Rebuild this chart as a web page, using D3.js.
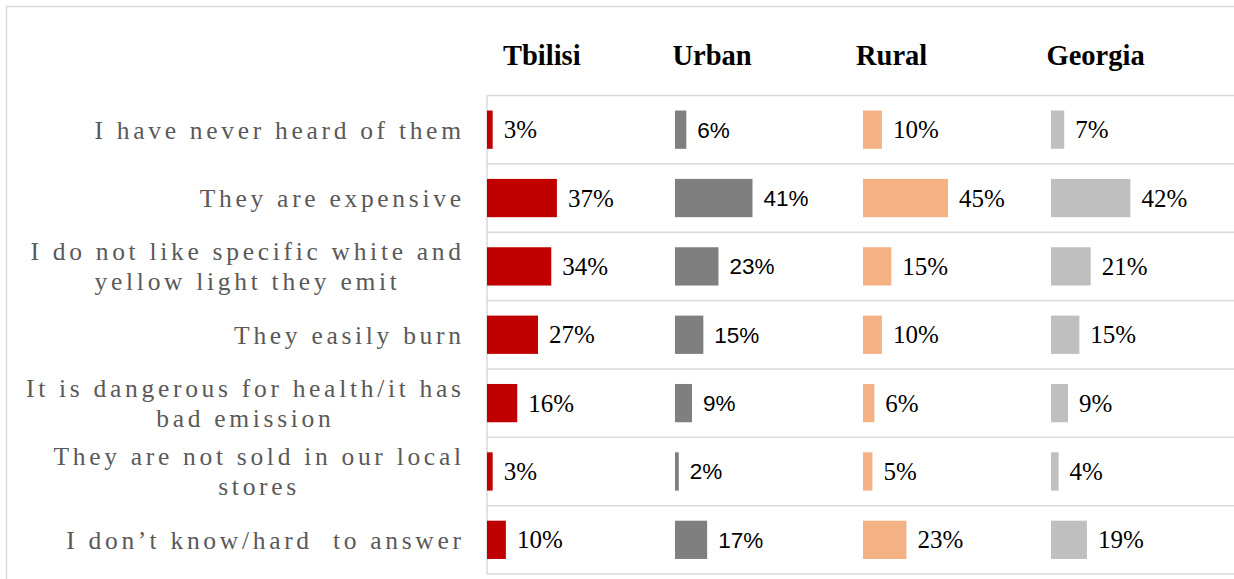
<!DOCTYPE html>
<html>
<head>
<meta charset="utf-8">
<script src="https://cdn.jsdelivr.net/npm/d3@7"></script>
<style>
  html, body { margin: 0; padding: 0; background: #fff; }
  svg { display: block; }
  .serif { font-family: "Liberation Serif", "Times New Roman", serif; }
  .num-serif { font-family: "Liberation Serif", "DejaVu Serif Condensed", "DejaVu Serif", serif; }
  .sans { font-family: "Liberation Sans", Arial, sans-serif; }
</style>
</head>
<body>
<svg id="chart" width="1234" height="579"></svg>
<script>
// Reasons for not using energy-saving bulbs, by settlement type
const categories = [
  "I have never heard of them",
  "They are expensive",
  "I do not like specific white and\nyellow light they emit",
  "They easily burn",
  "It is dangerous for health/it has\nbad emission",
  "They are not sold in our local\nstores",
  "I don\u2019t know/hard  to answer"
];
const regions = ["Tbilisi", "Urban", "Rural", "Georgia"];
const tbilisi = [3, 37, 34, 27, 16, 3, 10];
const urban   = [6, 41, 23, 15, 9, 2, 17];
const rural   = [10, 45, 15, 10, 6, 5, 23];
const georgia = [7, 42, 21, 15, 9, 4, 19];

const seriesValues = [tbilisi, urban, rural, georgia];

// Presentation per panel
const barColors = ["#C00000", "#7F7F7F", "#F4B183", "#BFBFBF"];
const valueFonts = [
  { cls: "num-serif", size: 25, dy: "0.34em" },
  { cls: "sans", size: 22.5, dy: "0.355em" },
  { cls: "num-serif", size: 25, dy: "0.34em" },
  { cls: "num-serif", size: 25, dy: "0.34em" }
];
const titleOffsets = [16, -2.5, -7, -4.5];

const svg = d3.select("#chart");
const gridColor = "#D9D9D9";

// Outer frame
svg.append("rect")
  .attr("x", 6.5).attr("y", 6.5)
  .attr("width", 1400).attr("height", 700)
  .attr("fill", "none")
  .attr("stroke", gridColor)
  .attr("stroke-width", 1.5);

const plotTop = 95.5, plotBottom = 574, plotLeft = 487;
const panelWidth = 188;

const y = d3.scaleBand()
  .domain(categories)
  .range([plotTop, plotBottom])
  .paddingInner(0.44)
  .paddingOuter(0.22);

const panel = d3.scaleBand()
  .domain(regions)
  .range([plotLeft, plotLeft + panelWidth * regions.length])
  .padding(0);

const x = d3.scaleLinear().domain([0, 100]).range([0, 189]);

// Row separators
const step = y.step();
const gap = (step - y.bandwidth()) / 2;
const boundaries = categories.map(c => y(c) - gap).concat([y(categories[categories.length - 1]) + y.bandwidth() + gap]);
svg.append("g").selectAll("line")
  .data(boundaries)
  .join("line")
  .attr("x1", plotLeft).attr("x2", 1240)
  .attr("y1", d => d).attr("y2", d => d)
  .attr("stroke", gridColor)
  .attr("stroke-width", 1.5);

// Vertical axis line
svg.append("line")
  .attr("x1", plotLeft).attr("x2", plotLeft)
  .attr("y1", boundaries[0]).attr("y2", boundaries[boundaries.length - 1])
  .attr("stroke", gridColor)
  .attr("stroke-width", 1.5);

// Panel titles
svg.append("g").selectAll("text")
  .data(regions)
  .join("text")
  .attr("class", "serif")
  .attr("x", (d, i) => panel(d) + titleOffsets[i])
  .attr("y", 65)
  .style("font-weight", "bold")
  .style("font-size", "28.5px")
  .attr("fill", "#000")
  .text(d => d);

// Bars and value labels
regions.forEach((r, i) => {
  const g = svg.append("g").attr("transform", `translate(${panel(r)},0)`);
  const rows = categories.map((c, k) => ({ c, v: seriesValues[i][k] }));
  g.selectAll("rect")
    .data(rows)
    .join("rect")
    .attr("x", x(0))
    .attr("y", d => y(d.c))
    .attr("width", d => x(d.v) - x(0))
    .attr("height", y.bandwidth())
    .attr("fill", barColors[i]);
  g.selectAll("text.value")
    .data(rows)
    .join("text")
    .attr("class", "value " + valueFonts[i].cls)
    .attr("x", d => x(d.v) + 11)
    .attr("y", d => y(d.c) + y.bandwidth() / 2)
    .attr("dy", valueFonts[i].dy)
    .style("font-size", valueFonts[i].size + "px")
    .attr("fill", "#000")
    .text(d => d.v + "%");
});

// Category labels: centred lines, block right-aligned to the axis
const labelRight = 461;
const letterSpacing = 3.7;
const lineGap = 30;
const labels = svg.append("g");
categories.forEach(c => {
  const lines = c.split("\n");
  const cy = y(c) + y.bandwidth() / 2;
  const t = labels.append("text")
    .attr("class", "serif")
    .style("font-size", "25.5px")
    .style("letter-spacing", letterSpacing + "px")
    .attr("fill", "#595959")
    .attr("text-anchor", "middle")
    .style("white-space", "pre");
  const spans = lines.map((line, k) =>
    t.append("tspan")
      .attr("y", cy + (k - (lines.length - 1) / 2) * lineGap + 9)
      .text(line)
  );
  const maxW = d3.max(spans, s => s.node().getComputedTextLength());
  const cx = labelRight + letterSpacing - maxW / 2;
  spans.forEach(s => s.attr("x", cx));
});
</script>
</body>
</html>
